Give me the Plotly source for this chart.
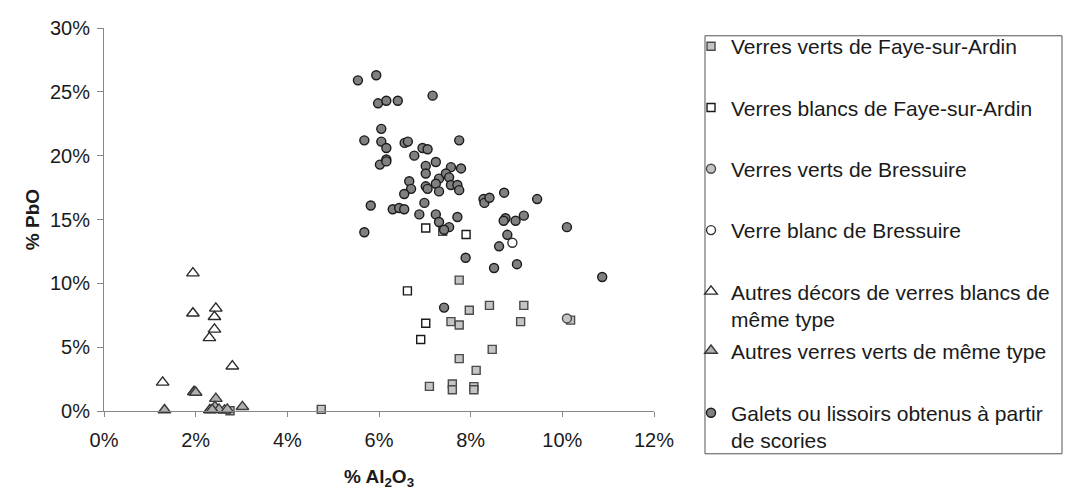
import plotly.graph_objects as go

# ---- data (values in %) ----
faye_verts_x = [4.74, 2.75, 7.39, 7.75, 7.97, 8.41, 9.16, 7.57, 7.75, 9.09, 10.18, 8.47, 7.75, 8.12, 7.10, 7.60, 7.60, 8.07, 8.07]
faye_verts_y = [0.13, 0.02, 14.07, 10.25, 7.89, 8.27, 8.27, 7.00, 6.74, 7.00, 7.12, 4.83, 4.10, 3.18, 1.93, 2.11, 1.66, 1.91, 1.66]

faye_blancs_x = [7.02, 7.90, 6.62, 7.02, 6.91]
faye_blancs_y = [14.33, 13.82, 9.41, 6.87, 5.60]

bress_verts_x = [10.10]
bress_verts_y = [7.25]

bress_blanc_x = [8.91]
bress_blanc_y = [13.18]

autres_blancs_x = [1.94, 1.94, 2.44, 2.41, 2.41, 2.30, 2.80, 1.28, 2.31, 1.96, 2.63]
autres_blancs_y = [10.8, 7.66, 8.04, 7.38, 6.39, 5.73, 3.51, 2.24, 0.08, 1.50, 0.05]

autres_verts_x = [1.32, 1.97, 2.00, 2.44, 2.42, 2.51, 2.69, 3.02, 2.36]
autres_verts_y = [0.08, 1.50, 1.45, 0.97, 0.33, 0.13, 0.13, 0.33, 0.10]

galets_x = [5.54, 5.94, 5.98, 6.16, 6.41, 7.17, 6.05, 5.68, 6.05, 6.16,
            6.56, 6.63, 6.95, 7.06, 7.75, 6.77, 6.16, 6.02, 6.16, 7.02,
            7.24, 7.02, 7.57, 7.79, 7.31, 7.46, 7.53, 6.66, 6.70, 7.02,
            7.06, 7.24, 7.31, 7.57, 7.71, 7.75, 6.55, 6.99, 5.82, 6.30,
            6.44, 6.55, 6.88, 7.24, 7.71, 7.31, 7.53, 7.42, 5.68, 7.89,
            8.28, 8.30, 8.41, 8.73, 9.45, 8.76, 8.72, 8.98, 9.16, 10.10,
            8.80, 8.62, 8.51, 9.01, 10.87, 7.42]
galets_y = [25.9, 26.3, 24.1, 24.3, 24.3, 24.7, 22.1, 21.2, 21.1, 20.6,
            21.0, 21.1, 20.6, 20.5, 21.2, 20.0, 19.7, 19.3, 19.55, 19.2,
            19.5, 18.6, 19.1, 19.0, 18.2, 18.6, 18.3, 18.0, 17.4, 17.6,
            17.4, 17.8, 17.2, 17.7, 17.7, 17.3, 17.0, 16.3, 16.1, 15.8,
            15.9, 15.8, 15.4, 15.4, 15.2, 14.8, 14.4, 14.2, 14.0, 12.0,
            16.6, 16.3, 16.7, 17.1, 16.6, 15.1, 14.9, 14.9, 15.3, 14.4,
            13.8, 12.9, 11.2, 11.5, 10.5, 8.1]

x_ticks = [0, 2, 4, 6, 8, 10, 12]
y_ticks = [0, 5, 10, 15, 20, 25, 30]

series = [
    ("Verres verts de Faye-sur-Ardin", faye_verts_x, faye_verts_y, "square", 8, "#c4c4c4", "#4a4a4a", "legend"),
    ("Verres blancs de Faye-sur-Ardin", faye_blancs_x, faye_blancs_y, "square", 8, "#ffffff", "#1a1a1a", "legend"),
    ("Verres verts de Bressuire", bress_verts_x, bress_verts_y, "circle", 9, "#c4c4c4", "#4a4a4a", "legend"),
    ("Verre blanc de Bressuire", bress_blanc_x, bress_blanc_y, "circle", 9, "#ffffff", "#333333", "legend"),
    ("Autres décors de verres blancs de<br>même type", autres_blancs_x, autres_blancs_y, "triangle-up", 11, "#ffffff", "#2a2a2a", "legend"),
    ("Autres verres verts de même type", autres_verts_x, autres_verts_y, "triangle-up", 11, "#b0b0b0", "#3a3a3a", "legend2"),
    ("Galets ou lissoirs obtenus à partir<br>de scories", galets_x, galets_y, "circle", 9, "#808080", "#1a1a1a", "legend2"),
]

fig = go.Figure()
for i, (name, xs, ys, sym, size, fill, line, leg) in enumerate(series):
    fig.add_trace(go.Scatter(
        x=xs, y=ys, mode="markers", name=name, legendgroup=f"g{i}", legend=leg,
        marker=dict(symbol=sym, size=size, color=fill, line=dict(color=line, width=1.4)),
        cliponaxis=False,
    ))

font_family = "Liberation Sans, Arial, sans-serif"
axis_col = "#868686"
leg_font = dict(size=21, family=font_family, color="#1a1a1a")

# page body has an 8px default margin: figure is sized to fill the rest of the window
fig.update_layout(
    width=1064, height=495, autosize=False,
    margin=dict(l=96, r=418, t=9, b=92),
    paper_bgcolor="white", plot_bgcolor="white",
    font=dict(family=font_family, color="#1a1a1a"),
    showlegend=True,
    legend=dict(
        x=1.0673, y=1.0051, xanchor="left", yanchor="top",
        borderwidth=0, bgcolor="rgba(0,0,0,0)", maxheight=480,
        font=leg_font, tracegroupgap=31, valign="top", itemwidth=30,
    ),
    legend2=dict(
        x=1.0673, y=0.2106, xanchor="left", yanchor="top",
        borderwidth=0, bgcolor="rgba(0,0,0,0)", maxheight=480,
        font=leg_font, tracegroupgap=32, valign="top", itemwidth=30,
    ),
    shapes=[dict(type="rect", xref="paper", yref="paper",
                 x0=1.0927, x1=1.7418, y0=-0.1117, y1=0.9797,
                 line=dict(color="#555555", width=1), fillcolor="rgba(0,0,0,0)", layer="below")],
    xaxis=dict(
        range=[0, 12], tickvals=x_ticks, ticktext=[f"{v}%" for v in x_ticks],
        showline=True, linecolor=axis_col, linewidth=1,
        ticks="outside", ticklen=5, tickcolor=axis_col,
        showgrid=False, zeroline=False, ticklabeloverflow="allow",
        tickfont=dict(size=20, color="#1a1a1a"), ticklabelstandoff=6,
        title=dict(text="<b>% Al<sub>2</sub>O<sub>3</sub></b>", font=dict(size=19), standoff=19),
    ),
    yaxis=dict(
        range=[0, 30], tickvals=y_ticks, ticktext=[f"{v}%" for v in y_ticks],
        showline=True, linecolor=axis_col, linewidth=1,
        ticks="outside", ticklen=6, tickcolor=axis_col,
        showgrid=False, zeroline=False, ticklabeloverflow="allow",
        tickfont=dict(size=20, color="#1a1a1a"), ticklabelstandoff=3,
        title=dict(text="<b>% PbO</b>", font=dict(size=19), standoff=5),
    ),
)

fig.write_html("out.html")
